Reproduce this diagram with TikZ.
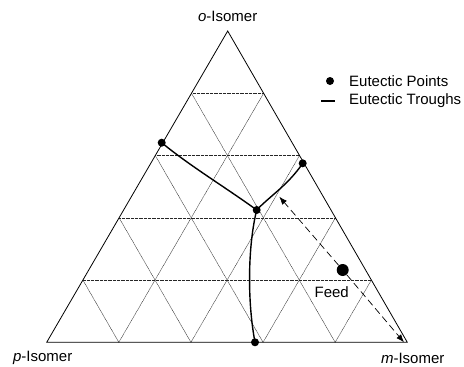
\documentclass[tikz,border=0pt]{standalone}
\usepackage{fontspec}
\setmainfont{Liberation Sans}
\usetikzlibrary{calc,arrows.meta}

\tikzset{
  gridline/.style={black!85, line width=0.45pt, dash pattern=on 0.8pt off 0.5pt},
  trough/.style={line width=1.4pt},
  eutectic/.style={circle, fill, inner sep=0pt, minimum size=8pt},
  feedline/.style={-{Latex[length=8pt,width=6pt]}, line width=0.7pt, dash pattern=on 7pt off 4pt},
}

\begin{document}
\begin{tikzpicture}[x=1pt, y=-1pt, font=\fontsize{15}{18}\selectfont]
        \useasboundingbox (0,0) rectangle (464,367);
        \coordinate (p) at (46.7,342.3);
        \coordinate (m) at (407.3,342.3);
        \coordinate (o) at (227.7,31);
        % grid
        \foreach \i in {1,...,4}
        {
          \draw [gridline] ($(p)!\i/5!(o)$) -- ($(m)!\i/5!(o)$);
          \draw [gridline] ($(p)!\i/5!(m)$) -- ($(o)!\i/5!(m)$);
          \draw [gridline] ($(p)!\i/5!(m)$) -- ($(p)!\i/5!(o)$);
        }
        \draw [line width=0.8pt] (p) -- (m) -- (o) -- cycle;

        \node (olabel) at (227.7,16) {\textit{o}-Isomer};
        \node (plabel) at (42.7,358.3) {\textit{p}-Isomer};
        \node (mlabel) at (412.7,358.3) {\textit{m}-Isomer};

        % eutectic points and troughs
        \node [eutectic] (eleft) at (161.7,142.7) {};
        \node [eutectic] (eright) at (302.7,163.3) {};
        \node [eutectic] (ecentre) at (256.7,210) {};
        \node [eutectic] (ebottom) at (255,342.3) {};
        \draw [trough] (eleft.center) .. controls (190,166) and (225,187) .. (ecentre.center);
        \draw [trough] (ecentre.center) .. controls (270,196) and (288,185) .. (eright.center);
        \draw [trough] (ecentre.center) .. controls (248,245) and (247,300) .. (ebottom.center);

        % feed
        \node [circle, fill, inner sep=0pt, minimum size=12pt] (feed) at (342.7,270) {};
        \node (feedlabel) at (331.7,291.7) {Feed};
        \coordinate (tip) at (279.3,196.7);
        \coordinate (mend) at (404,342.3);
        \draw [feedline] (feed) -- (tip);
        \draw [feedline] (feed) -- (mend);

        % legend
        \node [eutectic] (keydot) at (330,81) {};
        \node [anchor=west, inner sep=0pt] (keypoints) at (349,81) {Eutectic Points};
        \coordinate (keya) at (321,101);
        \coordinate (keyb) at (335,101);
        \draw [trough] (keya) -- (keyb);
        \node [anchor=west, inner sep=0pt] (keytroughs) at (349,101) {Eutectic Troughs};
      \end{tikzpicture}
\end{document}
